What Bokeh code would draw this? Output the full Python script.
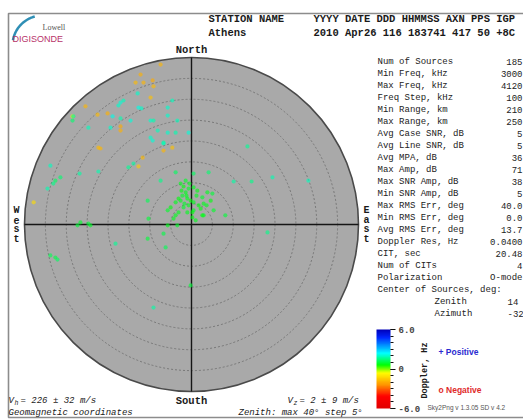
import numpy as np
from bokeh.plotting import figure
from bokeh.models import Range1d, ColumnDataSource, LinearColorMapper, ColorBar, FixedTicker
from bokeh.core.properties import value
from bokeh.embed import file_html
from bokeh.resources import INLINE

# ---- sky map data: source offsets from zenith (deg, +east / +north) and Doppler (Hz)
east_deg = [-7.4, -12.2, -13.4, -11.5, -9.3, -9.1, -9.8, -25.4, -22.5, -20.1,
            -17.0, -17.0, -22.3, -21.8, -6.7, -4.6, -11.7, -12.7, -37.8, -28.5,
            -12.9, -17.0, -16.3, -17.5, -18.9, -17.0, -19.4, -24.7, -14.6, -9.8,
            -9.1, -12.7, -12.0, -8.1, -9.8, -9.3, -6.7, -5.7, -3.4, -3.8,
            -15.1, -13.9, -33.8, -31.4, -32.6, -33.1, -34.5, -28.3, -28.5, -22.3,
            -26.8, -10.5, -7.4, -3.8, -5.7, -6.7, -0.7, 13.4, 10.1, 14.4,
            19.4, 4.1, 0.5, 28.0, -5.7, -4.6,
            -2.6, -1.9, -0.7, 0.5, 1.4, -1.4, -2.2, -3.1, -1.0, -0.2,
            0.5, 2.6, 3.8, 5.0, 4.6, 2.9, 1.7, -0.7, -1.9, -3.8,
            -5.0, -5.7, -3.1, 0.5, 2.6, 5.3, 8.1, -4.3, 0.2, 1.0,
            -3.4, -5.7, -1.4, -0.5, -2.4, -1.2, -2.6, -1.7, 1.2, 2.2,
            3.6, -1.0, -27.3, -26.6, -24.7, -24.2, -10.3, -33.8, -32.6, -32.1,
            -18.2, -10.5, -6.7, -6.2, -9.1, -3.8, -0.2, 0.2, 2.9, 18.2]
north_deg = [38.3, 35.9, 34.0, 34.0, 34.5, 33.1, 30.4, 28.3, 26.3, 26.6,
             23.5, 22.5, 18.4, 18.2, 17.7, 18.4, 16.0, 13.9, 5.3, 25.9,
             31.4, 29.2, 29.7, 28.5, 25.9, 25.4, 23.2, 23.2, 24.9, 24.9,
             24.9, 28.0, 27.8, 22.5, 20.8, 20.1, 19.6, 26.1, 24.9, 22.0,
             13.7, 14.6, 14.1, 11.3, 10.5, 9.8, 8.6, 25.9, 24.9, 12.7,
             12.2, 5.7, 10.5, 12.5, 22.0, 19.4, 22.0, 18.7, 10.3, 10.3,
             11.3, 12.5, 12.2, 10.5, 28.0, 29.7,
             9.8, 9.1, 8.6, 8.9, 8.1, 7.7, 6.9, 6.2, 6.2, 5.7,
             5.3, 6.5, 7.7, 7.4, 5.7, 5.0, 4.6, 4.6, 4.1, 5.3,
             4.1, 3.4, 2.9, 3.4, 2.2, 3.4, 2.2, 1.4, 1.7, 1.0,
             -0.2, -0.2, 10.5, 9.8, 8.1, 6.9, 5.7, 5.0, 6.9, 3.8,
             4.6, 2.9, -0.2, 0.5, 0.2, -0.2, 1.4, -7.4, -7.9, -8.4,
             -4.6, -3.4, -2.2, -5.5, -19.9, 2.2, -14.6, 2.9, 2.2, -1.9]
doppler_hz = [-1.8, -1.9, -1.7, -1.8, -2.0, -1.7, -1.6, -1.8, -1.7, -1.9,
              -2.0, -1.9, -1.7, -1.8, -1.8, -1.6, -1.7, -1.5, -1.2, -1.0,
              2.0, 2.1, 1.9, 2.0, 2.2, 1.8, 2.0, 1.9, 2.1, 2.0,
              1.8, 2.2, 2.0, 1.9, 2.0, 2.1, 1.7, 2.0, 1.9, 1.8,
              1.6, 1.7, 1.9, 1.4, 1.3, 1.5, 1.8, 1.6, 1.4, 1.8,
              1.7, 1.2, 1.5, 1.3, 2.0, 1.9, 2.1, 1.6, 1.7, 1.5,
              1.8, 1.4, 1.3, 1.9, 2.0, 1.9,
              0.8, 0.7, 0.9, 0.8, 0.7, 0.8, 0.9, 0.7, 0.8, 0.6,
              0.8, 0.9, 0.8, 1.0, 0.7, 0.8, 0.7, 0.8, 0.9, 0.8,
              0.7, 0.9, 0.8, 0.8, 0.7, 0.9, 1.0, 0.8, 0.7, 0.8,
              0.9, 0.8, 0.9, 0.8, 0.7, 0.8, 0.8, 0.9, 0.8, 0.7,
              0.8, 0.8, 1.0, 0.9, 1.0, 0.9, 1.0, 1.2, 1.1, 1.3,
              1.6, 1.0, 1.1, 1.2, 1.7, 0.8, 1.0, 0.7, 0.8, 1.5]

max_zenith = 40
ring_zenith = [5, 10, 15, 20, 25, 30, 35]
doppler_limit = 6.0

header_keys = "YYYY DATE  DDD HHMMSS AXN PPS IGP"
header_vals = "2010 Apr26 116 183741 417  50 +8C"
station = "Athens"

stat_labels = ["Num of Sources", "Min Freq, kHz", "Max Freq, kHz", "Freq Step, kHz",
               "Min Range, km", "Max Range, km", "Avg Case SNR, dB", "Avg Line SNR, dB",
               "Avg MPA, dB", "Max Amp, dB", "Max SNR Amp, dB", "Min SNR Amp, dB",
               "Max RMS Err, deg", "Min RMS Err, deg", "Avg RMS Err, deg", "Doppler Res, Hz",
               "CIT, sec", "Num of CITs", "Polarization", "Center of Sources, deg:"]
stat_values = ["185", "3000", "4120", "100", "210", "250", "5", "5", "36", "71",
               "38", "5", "40.0", "0.0", "13.7", "0.0400", "20.48", "4", "O-mode", ""]
center_labels = ["Zenith", "Azimuth"]
center_values = ["14", "-32"]

vh_text = "= 226 \u00b1 32 m/s"
vz_text = "= 2 \u00b1 9 m/s"

# ---- canvas geometry (pixels) and conversion to map degrees
W, H = 523, 419
CX, CY = 191, 224
K = 167.0 / max_zenith


def X(px):
    return (px - CX) / K


def Y(py):
    return (CY - py) / K


p = figure(width=W, height=H, x_range=Range1d(X(0), X(W)), y_range=Range1d(Y(H), Y(0)),
           output_backend="svg", toolbar_location=None, min_border=0,
           x_axis_type=None, y_axis_type=None, outline_line_color=None,
           background_fill_color="white", border_fill_color="white")

MONO = value("Liberation Mono")


def txt(px, py, s, size="9px", font=MONO, style="normal", color="#1a1a1a",
        align="left", baseline="middle", angle=0.0):
    p.text(x=[X(px)], y=[Y(py)], text=[s], text_font=font, text_font_size=size,
           text_font_style=style, text_color=color, text_align=align,
           text_baseline=baseline, angle=angle)


# page frame
p.line(x=[X(W + 2), X(8), X(8), X(W + 2)], y=[Y(13), Y(13), Y(417), Y(417)],
       line_color="#8c8c8c", line_width=1.6)

# logo
t = np.radians(np.linspace(190, 255, 40))
p.line(x=X(42 + 30 * np.cos(t)), y=Y(45 + 30 * np.sin(t)), line_color="#2f8fb5", line_width=2.5)
txt(42, 27, "Lowell", size="8px", font=value("Liberation Serif"), color="#555555")
txt(12, 38, "DIGISONDE", size="9px", font=value("Liberation Sans"), color="#b8336a")

# header
txt(208, 18, "STATION NAME", size="10.5px", style="bold")
txt(208, 32, station, size="10.5px", style="bold")
txt(313, 18, header_keys, size="10.5px", style="bold")
txt(313, 32, header_vals, size="10.5px", style="bold")

# sky disk, zenith rings, axes
p.circle(x=[0], y=[0], radius=max_zenith, fill_color="#a9a9a9", line_color=None)
p.circle(x=[0] * len(ring_zenith), y=[0] * len(ring_zenith), radius=ring_zenith,
         fill_color=None, line_color="#787878", line_dash="2 2", line_width=1)
p.circle(x=[0], y=[0], radius=max_zenith, fill_color=None, line_color="#4a4a4a", line_width=1.6)
p.segment(x0=[-max_zenith, 0], y0=[0, -max_zenith], x1=[max_zenith, 0], y1=[0, max_zenith],
          line_color="#151515", line_width=1.4)

# Doppler colour scale: red (negative) -> yellow -> green -> cyan -> blue (positive)
nodes_v = [-6.0, -4.2, -2.4, -0.6, 0.6, 2.4, 4.8, 6.0]
nodes_c = np.array([[225, 0, 0], [255, 0, 0], [255, 150, 0], [255, 255, 0],
                    [0, 255, 0], [0, 255, 255], [0, 40, 255], [0, 0, 185]], float)
vv = np.linspace(-6, 6, 128)
palette = ["#%02x%02x%02x" % tuple(int(round(np.interp(v, nodes_v, nodes_c[:, c]))) for c in range(3))
           for v in vv]
mapper = LinearColorMapper(palette=palette, low=-doppler_limit, high=doppler_limit)

src = ColumnDataSource(dict(east=east_deg, north=north_deg, doppler=doppler_hz))
p.scatter(x="east", y="north", source=src, size=4.2, marker="circle",
          fill_color={"field": "doppler", "transform": mapper}, line_color=None, fill_alpha=0.62)

# compass labels
txt(CX, 49, "North", size="10.5px", style="bold", align="center")
txt(CX, 400, "South", size="10.5px", style="bold", align="center")
for i, ch in enumerate("West"):
    txt(16, 210 + 9.5 * i, ch, size="10px", style="bold", align="center")
for i, ch in enumerate("East"):
    txt(366, 210 + 9.5 * i, ch, size="10px", style="bold", align="center")

# statistics table
rows_y = [61 + 12 * i for i in range(len(stat_labels))]
p.text(x=[X(377)] * len(stat_labels), y=[Y(v) for v in rows_y], text=stat_labels,
       text_font=MONO, text_font_size="9px", text_color="#222222", text_baseline="middle")
p.text(x=[X(522)] * len(stat_values), y=[Y(v) for v in rows_y], text=stat_values,
       text_font=MONO, text_font_size="9px", text_color="#222222", text_baseline="middle",
       text_align="right")
cy = [61 + 12 * (len(stat_labels) + i) for i in range(2)]
p.text(x=[X(434)] * 2, y=[Y(v) for v in cy], text=center_labels,
       text_font=MONO, text_font_size="9px", text_color="#222222", text_baseline="middle")
p.text(x=[X(507)] * 2, y=[Y(v) for v in cy], text=center_values,
       text_font=MONO, text_font_size="9px", text_color="#222222", text_baseline="middle")

# colour bar
cb = ColorBar(color_mapper=mapper, location=(376, 11), width=14, height=79, padding=0,
              ticker=FixedTicker(ticks=[-6, 0, 6], minor_ticks=list(range(-6, 7))),
              major_label_overrides={6: "6.0", 0: "0", -6: "-6.0"},
              major_tick_out=5, major_tick_in=0, minor_tick_out=3, minor_tick_in=0,
              major_tick_line_color="#111111", minor_tick_line_color="#111111",
              label_standoff=3, major_label_text_font="Liberation Mono",
              major_label_text_font_style="bold", major_label_text_font_size="9px",
              border_line_color=None, background_fill_alpha=0, bar_line_color=None)
p.add_layout(cb)
txt(424, 370, "Doppler, Hz", size="8.5px", style="bold", align="center", angle=np.pi / 2)
txt(438, 351, "+ Positive", size="8.5px", font=value("Liberation Sans"), style="bold", color="#2a2ad0")
txt(438, 389, "o Negative", size="8.5px", font=value("Liberation Sans"), style="bold", color="#e02a2a")
txt(427, 407, "Sky2Png v 1.3.05  SD v 4.2", size="6.5px", font=value("Liberation Sans"), color="#555555")

# velocity and footer notes
txt(8, 400, "V", size="9px", style="italic")
txt(14, 403, "h", size="6.5px", style="italic")
txt(20, 400, vh_text, size="9px", style="italic")
txt(8, 412, "Geomagnetic coordinates", size="9px", style="italic")
txt(287, 400, "V", size="9px", style="italic")
txt(293, 403, "z", size="6.5px", style="italic")
txt(299, 400, vz_text, size="9px", style="italic")
txt(238, 412, "Zenith: max 40\u00b0 step 5\u00b0", size="9px", style="italic")

open("out.html", "w").write(file_html(p, INLINE))
